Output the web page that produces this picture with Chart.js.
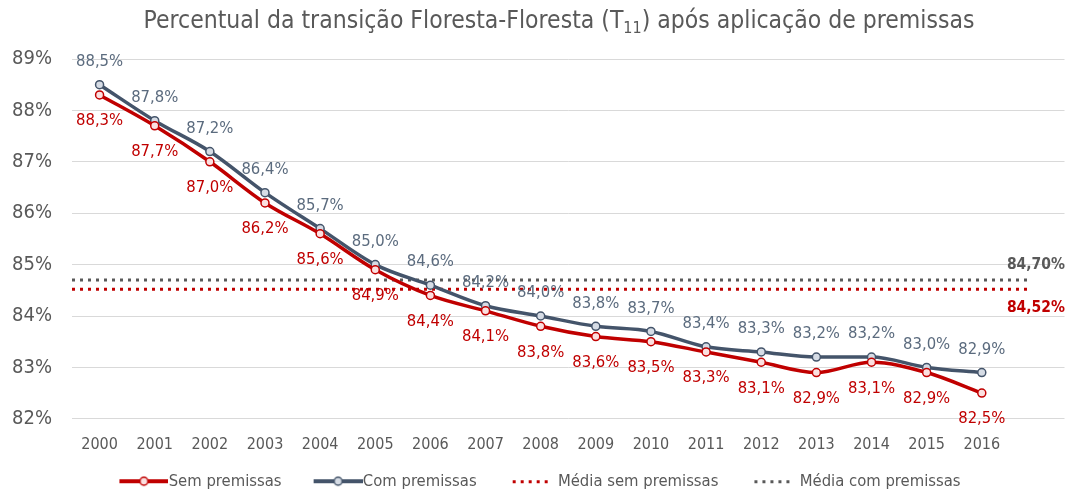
<!DOCTYPE html>
<html>
<head>
<meta charset="utf-8">
<script src="https://cdn.jsdelivr.net/npm/chart.js@4.4.1/dist/chart.umd.min.js"></script>
<style>
  html, body { margin: 0; padding: 0; background: #fff; }
  #wrap { width: 1070px; height: 493px; }
</style>
</head>
<body>
<div id="wrap"><canvas id="chart"></canvas></div>
<script>
const years = [2000, 2001, 2002, 2003, 2004, 2005, 2006, 2007, 2008, 2009, 2010, 2011, 2012, 2013, 2014, 2015, 2016];
const semPremissas = [88.3, 87.7, 87.0, 86.2, 85.6, 84.9, 84.4, 84.1, 83.8, 83.6, 83.5, 83.3, 83.1, 82.9, 83.1, 82.9, 82.5];
const comPremissas = [88.5, 87.8, 87.2, 86.4, 85.7, 85.0, 84.6, 84.2, 84.0, 83.8, 83.7, 83.4, 83.3, 83.2, 83.2, 83.0, 82.9];
const mediaSem = 84.52;
const mediaCom = 84.70;
const mediaRange = [1999.5, 2016.85];
const legendNames = ['Sem premissas', 'Com premissas', 'Média sem premissas', 'Média com premissas'];

const FONT = "'DejaVu Sans Condensed', 'Liberation Sans Narrow', sans-serif";
const RED = '#c00000';
const SLATE = '#44546a';
const GREY_TEXT = '#595959';
const BOX_W = 70;

function pct(v, digits) {
    return v.toFixed(digits).replace('.', ',') + '%';
}

// legend symbols; the line ones are wider so they run up to the text
function lineSymbol(color, fill) {
    const c = document.createElement('canvas');
    c.width = BOX_W + 16; c.height = 12;
    const ctx = c.getContext('2d');
    const x0 = c.width - 49;
    ctx.strokeStyle = color;
    ctx.lineWidth = 4;
    ctx.beginPath(); ctx.moveTo(x0, 6); ctx.lineTo(c.width, 6); ctx.stroke();
    ctx.fillStyle = fill;
    ctx.lineWidth = 1.5;
    ctx.beginPath(); ctx.arc(x0 + 24.5, 6, 4, 0, Math.PI * 2); ctx.fill(); ctx.stroke();
    return c;
}
function dotSymbol(color) {
    const c = document.createElement('canvas');
    c.width = BOX_W; c.height = 12;
    const ctx = c.getContext('2d');
    ctx.fillStyle = color;
    for (let i = 0; i < 5; i++) {
        ctx.fillRect(BOX_W - 37 + i * 8, 5, 3, 3);
    }
    return c;
}
const symbols = [
    lineSymbol(RED, '#fbe0e0'),
    lineSymbol(SLATE, '#d6dce5'),
    dotSymbol(RED),
    dotSymbol(GREY_TEXT)
];

const titlePlugin = {
    id: 'titleSub',
    afterLayout(chart) {
        // legend row sits a bit left of centre in the original
        chart.legend.left -= 14;
        chart.legend.right -= 14;
    },
    afterDraw(chart) {
        const ctx = chart.ctx;
        const big = '24.5px ' + FONT;
        const small = '16px ' + FONT;
        const part1 = 'Percentual da transição Floresta-Floresta (T';
        const sub = '11';
        const part2 = ') após aplicação de premissas';
        ctx.save();
        ctx.font = big;
        const w1 = ctx.measureText(part1).width;
        const w3 = ctx.measureText(part2).width;
        ctx.font = small;
        const w2 = ctx.measureText(sub).width;
        const total = w1 + w2 + w3;
        let x = 559 - total / 2;
        const y = 22;
        ctx.fillStyle = GREY_TEXT;
        ctx.textBaseline = 'middle';
        ctx.textAlign = 'left';
        ctx.font = big;
        ctx.fillText(part1, x, y);
        x += w1;
        ctx.font = small;
        ctx.fillText(sub, x, y + 7);
        x += w2;
        ctx.font = big;
        ctx.fillText(part2, x, y);
        ctx.restore();
    }
};

const labelPlugin = {
    id: 'pointLabels',
    afterDatasetsDraw(chart) {
        const ctx = chart.ctx;
        ctx.save();
        ctx.font = '16.5px ' + FONT;
        ctx.textAlign = 'center';
        ctx.textBaseline = 'middle';
        const sem = chart.getDatasetMeta(0).data;
        const com = chart.getDatasetMeta(1).data;
        ctx.fillStyle = RED;
        sem.forEach((pt, i) => ctx.fillText(pct(semPremissas[i], 1), pt.x, pt.y + 26));
        ctx.fillStyle = '#5b6b7e';
        com.forEach((pt, i) => ctx.fillText(pct(comPremissas[i], 1), pt.x, pt.y - 23));

        // average values at the right
        const y = chart.scales.y;
        const right = chart.width - 5;
        ctx.textAlign = 'right';
        ctx.font = 'bold 15.5px ' + FONT;
        ctx.fillStyle = GREY_TEXT;
        ctx.fillText(pct(mediaCom, 2), right, y.getPixelForValue(mediaCom) - 15);
        ctx.fillStyle = RED;
        ctx.fillText(pct(mediaSem, 2), right, y.getPixelForValue(mediaSem) + 19);
        ctx.restore();
    }
};

const chartEl = document.getElementById('chart');
new Chart(chartEl, {
    type: 'line',
    data: {
        datasets: [
            {
                label: legendNames[0],
                data: years.map((yr, i) => ({x: yr, y: semPremissas[i]})),
                borderColor: RED,
                borderWidth: 3.5,
                pointRadius: 4,
                pointBorderWidth: 1.5,
                pointBackgroundColor: '#fbe0e0',
                pointBorderColor: RED,
                cubicInterpolationMode: 'monotone'
            },
            {
                label: legendNames[1],
                data: years.map((yr, i) => ({x: yr, y: comPremissas[i]})),
                borderColor: SLATE,
                borderWidth: 3.5,
                pointRadius: 4,
                pointBorderWidth: 1.5,
                pointBackgroundColor: '#d6dce5',
                pointBorderColor: SLATE,
                cubicInterpolationMode: 'monotone'
            },
            {
                label: legendNames[2],
                data: mediaRange.map(yr => ({x: yr, y: mediaSem})),
                borderColor: RED,
                borderWidth: 3,
                borderDash: [3, 5],
                pointRadius: 0
            },
            {
                label: legendNames[3],
                data: mediaRange.map(yr => ({x: yr, y: mediaCom})),
                borderColor: GREY_TEXT,
                borderWidth: 3,
                borderDash: [3, 5],
                pointRadius: 0
            }
        ]
    },
    options: {
        responsive: true,
        maintainAspectRatio: false,
        animation: false,
        layout: { padding: { top: 59, left: 10, right: 1, bottom: 0 } },
        scales: {
            x: {
                type: 'linear',
                min: 1999.5,
                max: 2017.5,
                afterBuildTicks: axis => { axis.ticks = years.map(v => ({value: v})); },
                grid: { display: false, drawTicks: false },
                border: { display: false },
                ticks: {
                    color: GREY_TEXT,
                    font: { family: FONT, size: 16 },
                    padding: 16,
                    maxRotation: 0,
                    autoSkip: false,
                    callback: v => String(v)
                }
            },
            y: {
                min: 82,
                max: 89,
                afterFit: axis => { axis.width = 62; },
                grid: { color: '#d9d9d9', lineWidth: 1, drawTicks: false },
                border: { display: false },
                ticks: {
                    stepSize: 1,
                    color: GREY_TEXT,
                    font: { family: FONT, size: 20 },
                    padding: 20,
                    callback: v => v + '%'
                }
            }
        },
        plugins: {
            title: { display: false },
            tooltip: { enabled: false },
            legend: {
                position: 'bottom',
                maxHeight: 23,
                labels: {
                    usePointStyle: true,
                    pointStyleWidth: BOX_W,
                    padding: 3,
                    color: GREY_TEXT,
                    font: { family: FONT, size: 16.5 },
                    generateLabels: chart => legendNames.map((name, i) => ({
                        text: name,
                        pointStyle: symbols[i],
                        fillStyle: 'transparent',
                        strokeStyle: 'transparent',
                        lineWidth: 0,
                        hidden: false,
                        datasetIndex: i,
                        fontColor: GREY_TEXT
                    }))
                }
            }
        }
    },
    plugins: [titlePlugin, labelPlugin]
});
</script>
</body>
</html>
